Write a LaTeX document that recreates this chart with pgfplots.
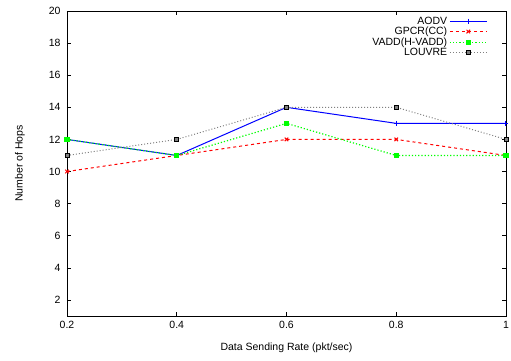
\documentclass[border=0pt]{standalone}
\usepackage{fontspec}
\setmainfont{Liberation Sans}
\usepackage{pgfplots}
\pgfplotsset{compat=1.18}
\begin{document}
\begin{tikzpicture}
\path[use as bounding box] (-67pt,-44pt) rectangle (444pt,316pt);
\begin{axis}[
  anchor=south west, at={(0pt,0pt)},
  scale only axis,
  width=439pt, height=305pt,
  xmin=0.2, xmax=1, ymin=1, ymax=20,
  xtick={0.2,0.4,0.6,0.8,1}, ytick={2,4,...,20},
  xticklabels={0.2,0.4,0.6,0.8,1},
  tick align=inside, tick pos=both,
  major tick length=4pt,
  /pgf/number format/assume math mode=true,
  ticklabel style={font=\fontsize{10.5}{12}\selectfont},
  yticklabel style={xshift=-3pt},
  xticklabel style={yshift=-2pt},
  label style={font=\fontsize{10.5}{12}\selectfont},
  xlabel={Data Sending Rate (pkt/sec)},
  ylabel={Number of Hops},
  xlabel style={at={(axis description cs:0.5,0)}, anchor=center, yshift=-32pt},
  ylabel style={at={(axis description cs:-0.107,0.5)}, anchor=center},
  axis line style={line width=0.9pt},
  every tick/.style={line width=0.6pt, black},
  legend style={draw=none, fill=none, at={(rel axis cs:0.965,0.995)}, anchor=north east,
    font=\fontsize{10.5}{12}\selectfont, row sep=-2.5pt},
  legend cell align=right,
  legend plot pos=right,
  legend image code/.code={
    \draw[mark repeat=2,mark phase=2,#1] plot coordinates {(0cm,0cm) (0.65cm,0cm) (1.3cm,0cm)};},
]
\addplot[blue, line width=1pt, mark=+, mark size=2.5pt] coordinates {(0.2,12) (0.4,11) (0.6,14) (0.8,13) (1,13)};
\addlegendentry{AODV}
\addplot[red, dashed, line width=1pt, mark=x, mark size=2.5pt, mark options={solid}] coordinates {(0.2,10) (0.4,11) (0.6,12) (0.8,12) (1,11)};
\addlegendentry{GPCR(CC)}
\addplot[green, dotted, line width=1.2pt, mark=square*, mark size=2pt, mark options={solid}] coordinates {(0.2,12) (0.4,11) (0.6,13) (0.8,11) (1,11)};
\addlegendentry{VADD(H-VADD)}
\addplot[gray, dotted, line width=1pt, mark=square*, mark size=2pt, mark options={solid, draw=black, fill=gray, line width=0.9pt}] coordinates {(0.2,11) (0.4,12) (0.6,14) (0.8,14) (1,12)};
\addlegendentry{LOUVRE}
\end{axis}
\end{tikzpicture}
\end{document}
